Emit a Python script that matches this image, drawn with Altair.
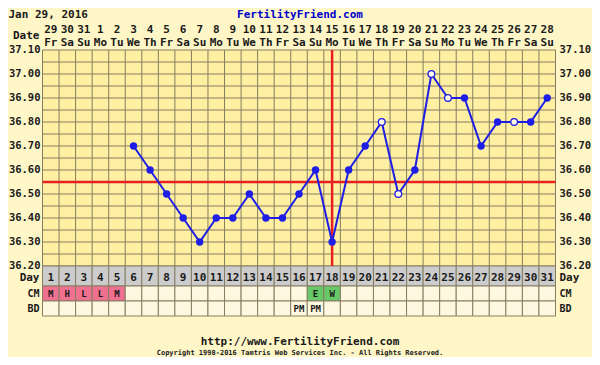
import altair as alt
import pandas as pd

# ---------------- data ----------------
days = list(range(1, 32))
dates = [29, 30, 31] + list(range(1, 29))
weekdays = ["Fr", "Sa", "Su", "Mo", "Tu", "We", "Th"] * 5
weekdays = weekdays[:31]

temp_days = list(range(6, 32))
temps = [36.70, 36.60, 36.50, 36.40, 36.30, 36.40, 36.40, 36.50, 36.40, 36.40,
         36.50, 36.60, 36.30, 36.60, 36.70, 36.80, 36.50, 36.60, 37.00, 36.90,
         36.90, 36.70, 36.80, 36.80, 36.80, 36.90]
open_days = [21, 22, 24, 25, 29]

cm_days = [1, 2, 3, 4, 5, 17, 18]
cm_codes = ["M", "H", "L", "L", "M", "E", "W"]
cm_kind = ["pink", "pink", "pink", "pink", "pink", "green", "green"]

bd_days = [16, 17]
bd_codes = ["PM", "PM"]

coverline = 36.55
ovulation_day = 18

y_labels = [36.20, 36.30, 36.40, 36.50, 36.60, 36.70, 36.80, 36.90, 37.00, 37.10]
y_grid = [round(36.20 + 0.05 * i, 2) for i in range(19)]
x_bounds = [d - 0.5 for d in days] + [31.5]

# ---------------- style ----------------
W, H = 513, 216
FONT = "DejaVu Sans Mono"
GRID = "#857D62"
BLUE = "#1E1EE6"
RED = "#E82020"
PAGE_BG = "#FFF6C8"
PLOT_BG = "#FFEFA2"
CELL_BG = "#FFF8E0"
DAY_BG = "#CCCCCC"
PINK = "#F07090"
GREEN = "#66C866"

xs = alt.Scale(domain=[0.5, 31.5], nice=False, zero=False)
ys = alt.Scale(domain=[36.2, 37.1], nice=False, zero=False)

X = lambda f: alt.X(f, type="quantitative", scale=xs, axis=None)
Y = lambda f: alt.Y(f, type="quantitative", scale=ys, axis=None)

# dataframes
day_df = pd.DataFrame({"day": days, "date": [str(d) for d in dates], "wd": weekdays})
day_df["x0"] = day_df["day"] - 0.5
day_df["x1"] = day_df["day"] + 0.5
day_df["dlabel"] = day_df["day"].astype(str)

cm_map = {d: (c, k) for d, c, k in zip(cm_days, cm_codes, cm_kind)}
cm_df = day_df[["day", "x0", "x1"]].copy()
cm_df["code"] = [cm_map.get(d, ("", "none"))[0] for d in days]
cm_df["kind"] = [cm_map.get(d, ("", "none"))[1] for d in days]

bd_map = dict(zip(bd_days, bd_codes))
bd_df = day_df[["day", "x0", "x1"]].copy()
bd_df["code"] = [bd_map.get(d, "") for d in days]

temp_df = pd.DataFrame({"day": temp_days, "temp": temps})
temp_df["open"] = temp_df["day"].isin(open_days)

hgrid_df = pd.DataFrame({"t": y_grid})
vgrid_df = pd.DataFrame({"b": x_bounds})
ylab_df = pd.DataFrame({"t": y_labels, "lab": [f"{v:.2f}" for v in y_labels]})

layers = []

# grid
layers.append(alt.Chart(hgrid_df).mark_rule(color=GRID, strokeWidth=1).encode(
    y=Y("t"), x=alt.value(0), x2=alt.value(W)))
layers.append(alt.Chart(vgrid_df).mark_rule(color=GRID, strokeWidth=1).encode(
    x=X("b"), y=alt.value(0), y2=alt.value(H)))

# table rows
row_top = [H, H + 20, H + 35]
row_bot = [H + 20, H + 35, H + 50]

layers.append(alt.Chart(day_df).mark_rect(fill=DAY_BG, stroke=GRID, strokeWidth=1).encode(
    x=X("x0"), x2="x1", y=alt.value(row_top[0]), y2=alt.value(row_bot[0])))
layers.append(alt.Chart(cm_df).mark_rect(stroke=GRID, strokeWidth=1).encode(
    x=X("x0"), x2="x1", y=alt.value(row_top[1]), y2=alt.value(row_bot[1]),
    fill=alt.Fill("kind:N", scale=alt.Scale(domain=["none", "pink", "green"],
                                            range=[CELL_BG, PINK, GREEN]), legend=None)))
layers.append(alt.Chart(bd_df).mark_rect(fill=CELL_BG, stroke=GRID, strokeWidth=1).encode(
    x=X("x0"), x2="x1", y=alt.value(row_top[2]), y2=alt.value(row_bot[2])))

txt = dict(font=FONT, fontWeight="bold", color="#1A1A1A", baseline="middle")

day_cy = (row_top[0] + row_bot[0]) / 2 + 2
cm_cy = (row_top[1] + row_bot[1]) / 2 + 0.5
bd_cy = (row_top[2] + row_bot[2]) / 2 + 0.5

layers.append(alt.Chart(day_df).mark_text(fontSize=11, **txt).encode(
    x=X("day"), y=alt.value(day_cy), text="dlabel"))
layers.append(alt.Chart(cm_df).mark_text(fontSize=9, **txt).encode(
    x=X("day"), y=alt.value(cm_cy), text="code"))
layers.append(alt.Chart(bd_df).mark_text(fontSize=9, **txt).encode(
    x=X("day"), y=alt.value(bd_cy), text="code"))

# row labels left and right
for lab, cy, fs in [("Day", day_cy, 11), ("CM", cm_cy, 10), ("BD", bd_cy, 10)]:
    d = pd.DataFrame({"lab": [lab]})
    layers.append(alt.Chart(d).mark_text(fontSize=fs, align="right", **txt).encode(
        x=alt.value(-3), y=alt.value(cy), text="lab"))
    layers.append(alt.Chart(d).mark_text(fontSize=fs, align="left", **txt).encode(
        x=alt.value(W + 4), y=alt.value(cy), text="lab"))

# header dates
layers.append(alt.Chart(day_df).mark_text(fontSize=11, **txt).encode(
    x=X("day"), y=alt.value(-20), text="date"))
layers.append(alt.Chart(day_df).mark_text(fontSize=11, **txt).encode(
    x=X("day"), y=alt.value(-7), text="wd"))
layers.append(alt.Chart(pd.DataFrame({"lab": ["Date"]})).mark_text(
    fontSize=11, align="right", **txt).encode(
    x=alt.value(-3), y=alt.value(-14), text="lab"))

# y labels
layers.append(alt.Chart(ylab_df).mark_text(fontSize=10.5, align="right", **txt).encode(
    y=Y("t"), x=alt.value(-2), text="lab"))
layers.append(alt.Chart(ylab_df).mark_text(fontSize=10.5, align="left", **txt).encode(
    y=Y("t"), x=alt.value(W + 4), text="lab"))

# red lines
layers.append(alt.Chart(pd.DataFrame({"t": [coverline]})).mark_rule(
    color=RED, strokeWidth=2.5).encode(y=Y("t"), x=alt.value(0), x2=alt.value(W)))
layers.append(alt.Chart(pd.DataFrame({"d": [ovulation_day]})).mark_rule(
    color=RED, strokeWidth=2.5).encode(x=X("d"), y=alt.value(0), y2=alt.value(H)))

# temperature line and points
layers.append(alt.Chart(temp_df).mark_line(color=BLUE, strokeWidth=2).encode(
    x=X("day"), y=Y("temp")))
layers.append(alt.Chart(temp_df[~temp_df["open"]]).mark_point(
    filled=True, color=BLUE, size=55, opacity=1, shape="circle").encode(
    x=X("day"), y=Y("temp")))
layers.append(alt.Chart(temp_df[temp_df["open"]]).mark_point(
    filled=True, fill="#FFFBE6", stroke=BLUE, strokeWidth=1.3, size=45, opacity=1,
    shape="circle").encode(x=X("day"), y=Y("temp")))

# titles and footer
layers.append(alt.Chart(pd.DataFrame({"lab": ["Jan 29, 2016"]})).mark_text(
    fontSize=11, align="left", **txt).encode(
    x=alt.value(-34), y=alt.value(-35), text="lab"))
layers.append(alt.Chart(pd.DataFrame({"lab": ["FertilityFriend.com"]})).mark_text(
    fontSize=11, align="center", font=FONT, fontWeight="bold", color="#0000CC",
    baseline="middle").encode(
    x=alt.value(W / 2 + 1), y=alt.value(-35), text="lab"))
layers.append(alt.Chart(pd.DataFrame({"lab": ["http://www.FertilityFriend.com"]})).mark_text(
    fontSize=11, align="center", **txt).encode(
    x=alt.value(W / 2 + 1), y=alt.value(292), text="lab"))
layers.append(alt.Chart(pd.DataFrame({"lab": [
    "Copyright 1998-2016 Tamtris Web Services Inc. - All Rights Reserved."]})).mark_text(
    fontSize=7, align="center", **txt).encode(
    x=alt.value(W / 2 + 1), y=alt.value(303), text="lab"))

chart = alt.layer(*layers).properties(
    width=W, height=H,
    padding={"left": 34.5, "top": 42, "right": 36, "bottom": 91},
    autosize="none",
).configure(background=PAGE_BG).configure_view(fill=PLOT_BG, stroke=None)

chart.save("out.html", embed_options={"renderer": "svg", "actions": False})
